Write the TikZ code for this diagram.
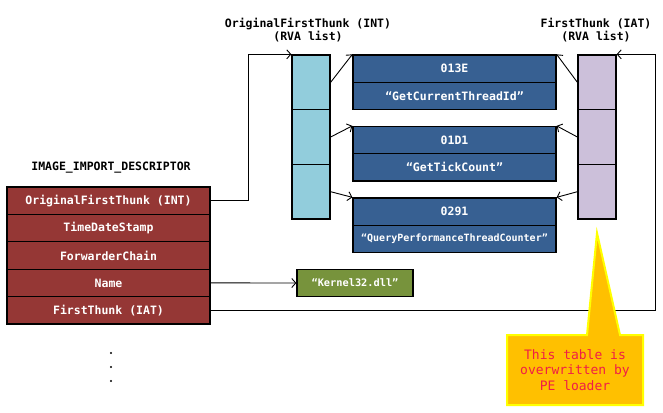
\documentclass[tikz,border=0pt]{standalone}
\usepackage{fontspec}
\newfontfamily\codefont{DejaVu Sans Mono}
\usetikzlibrary{arrows.meta}
\definecolor{descred}{RGB}{149,55,53}
\definecolor{intblue}{RGB}{146,205,220}
\definecolor{iatlilac}{RGB}{204,192,218}
\definecolor{hintblue}{RGB}{55,96,146}
\definecolor{dllgreen}{RGB}{119,147,60}
\definecolor{noteorange}{RGB}{255,192,0}
\definecolor{noteyellow}{RGB}{255,255,0}
\definecolor{notered}{RGB}{240,30,70}
\tikzset{
  cell/.style={draw=black, line width=1.3pt, inner sep=0pt, text=white,
    font=\codefont\bfseries\fontsize{11.5}{13}\selectfont},
  descrow/.style={cell, fill=descred, minimum width=203pt, minimum height=27.4pt},
  thunk/.style={cell, minimum width=38pt, minimum height=54.7pt},
  hintrow/.style={cell, fill=hintblue, minimum width=203pt, minimum height=27.2pt},
  title/.style={align=center, inner sep=0pt,
    font=\codefont\bfseries\fontsize{11.5}{13}\selectfont},
  link/.style={-{Straight Barb[length=4pt,width=9pt]}, line width=0.9pt}
}
\begin{document}
\begin{tikzpicture}[x=1pt,y=-1pt]
\useasboundingbox (0,0) rectangle (663,412);

% descriptor table
\node[title] (desctitle) at (111,168) {IMAGE\_IMPORT\_DESCRIPTOR};
\foreach \i/\txt in {1/{OriginalFirstThunk (INT)},2/TimeDateStamp,3/ForwarderChain,4/Name,5/{FirstThunk (IAT)}}
  \node[descrow] (desc\i) at (108.5,{173.3+27.4*\i}) {\txt};
\foreach \y in {353,367,381}
  \fill (111,\y) circle (1.1);

% the two thunk arrays
\node[title] (inttitle) at (308,30.5) {OriginalFirstThunk (INT)\\(RVA list)};
\node[title] (iattitle) at (596,30.5) {FirstThunk (IAT)\\(RVA list)};
\foreach \i in {1,2,3} {
  \node[thunk, fill=intblue] (int\i) at (311,{27.6+54.7*\i}) {};
  \node[thunk, fill=iatlilac] (iat\i) at (597,{27.6+54.7*\i}) {};
}

% hint/name entries
\foreach \i/\hint/\fname/\top/\fs in {1/013E/GetCurrentThreadId/55/11.5,2/01D1/GetTickCount/126.5/11.5,3/0291/QueryPerformanceThreadCounter/198/10}{
  \node[hintrow] (hint\i) at (454.5,\top+13.6) {\hint};
  \node[hintrow, font=\codefont\bfseries\fontsize{\fs}{12}\selectfont] (name\i) at (454.5,\top+40.8) {“\fname”};
}

\node[cell, fill=dllgreen, minimum width=116pt, minimum height=27.4pt,
  font=\codefont\bfseries\fontsize{10.3}{12}\selectfont] (dll) at (355,283) {“Kernel32.dll”};

% connectors
\draw[link] (desc1.east) -- ++(38,0) |- (int1.north west);
\draw[link] (desc4.east) -- (dll.west);
\draw[link] (desc5.east) -- ++(445,0) |- (iat1.north east);
\foreach \i in {1,2,3} {
  \draw[link] (int\i.east) -- (hint\i.north west);
  \draw[link] (iat\i.west) -- (hint\i.north east);
}

% callout
\filldraw[fill=noteorange, draw=noteyellow, line width=2pt, line join=miter]
  (507,335) -- (587,335) -- (597,233) -- (620,335) -- (643,335)
  -- (643,405) -- (507,405) -- cycle;
\node[align=center, text=notered, font=\codefont\fontsize{13}{15.5}\selectfont] (note) at (575,370)
  {This table is\\overwritten by\\PE loader};
\end{tikzpicture}
\end{document}
